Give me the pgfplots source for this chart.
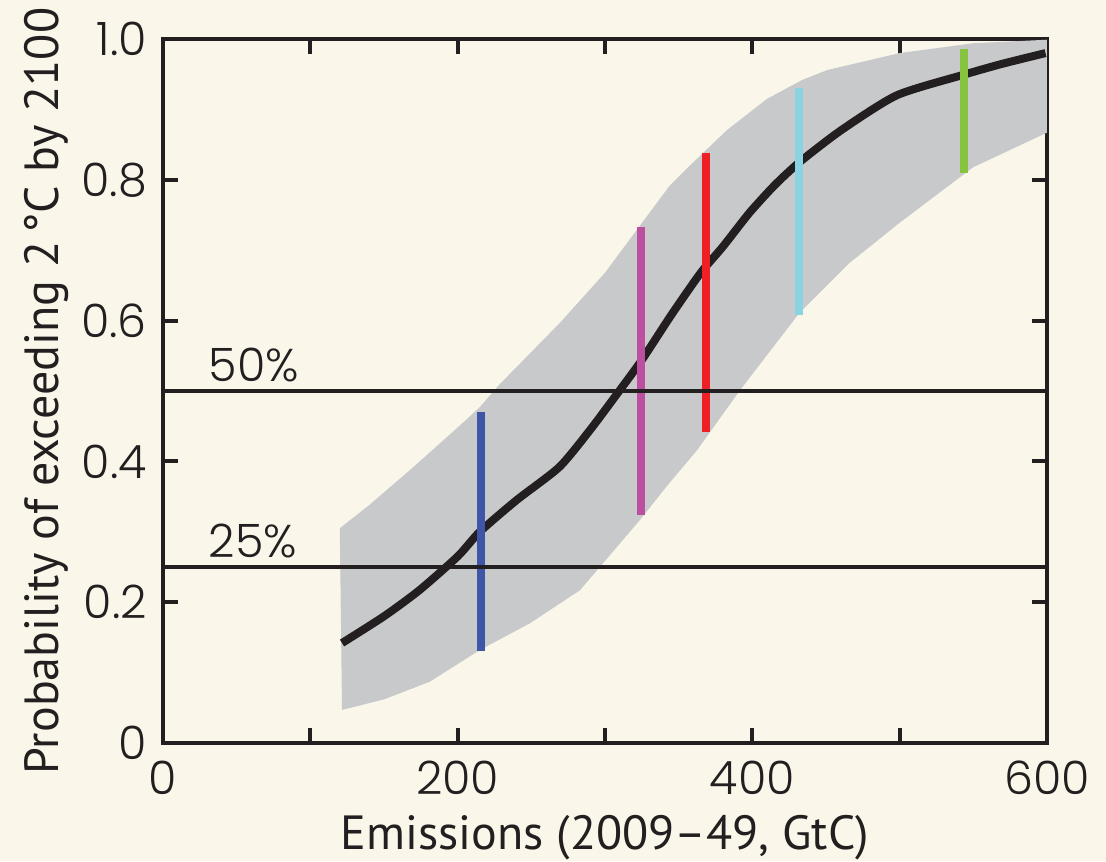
\documentclass[border=0pt]{standalone}
\usepackage{fontspec}
\setmainfont{PT Sans}
\newfontfamily\tickfont{Poppins}[UprightFont={* Light}]
\usepackage{pgfplots}
\pgfplotsset{compat=1.18}
\usetikzlibrary{backgrounds}
\definecolor{bgcream}{HTML}{FAF6E9}
\definecolor{bandgray}{HTML}{C8C9CB}
\definecolor{ink}{HTML}{231F20}
\definecolor{cblue}{HTML}{3F56A8}
\definecolor{cmag}{HTML}{BC4F9F}
\definecolor{cred}{HTML}{EE1F25}
\definecolor{ccyan}{HTML}{8AD3E3}
\definecolor{cgreen}{HTML}{86C440}
\begin{document}
\begin{tikzpicture}
\begin{axis}[
  scale only axis, width=221pt, height=176pt,
  xmin=0, xmax=600, ymin=0, ymax=1,
  axis line style={line width=1pt, color=ink},
  xtick={0,100,...,600}, xticklabels={0,,200,,400,,600},
  ytick={0,0.2,0.4,0.6,0.8,1.0}, yticklabels={0,0.2,0.4,0.6,0.8,1.0},
  tick align=inside, major tick length=3.75pt,
  tick style={line width=1pt, color=ink},
  tick pos=both,
  ticklabel style={font=\tickfont\fontsize{11.5}{12}\selectfont, text=ink},
  yticklabel style={xshift=-0.5pt},
  xticklabel style={yshift=-1pt},
  xlabel={Emissions (2009\textendash 49, GtC)},
  ylabel={Probability of exceeding 2\,°C by 2100},
  label style={font=\fontsize{12}{13}\selectfont, text=ink},
  xlabel style={at={(axis description cs:0.5,0)}, anchor=base, yshift=-26.5pt},
  ylabel style={at={([xshift=-29pt]axis description cs:0,0.5)}, anchor=center},
  clip=false,
]
\coordinate (SW) at (rel axis cs:0,0);
\coordinate (NE) at (rel axis cs:1,1);
% uncertainty band
\addplot[fill=bandgray, draw=none] coordinates {
 (120,0.305) (140,0.338) (170,0.392) (203.6,0.455) (215,0.477) (228.7,0.510)
 (269.5,0.597) (300,0.668) (344,0.792) (355,0.815) (383,0.871) (410,0.915)
 (434,0.942) (451,0.956) (500,0.980) (550,0.994) (600,0.999)
 (600,0.867) (550,0.818) (500,0.739) (466,0.682) (432,0.611) (391.6,0.501)
 (362.5,0.416) (342,0.365) (323.8,0.317) (283,0.217) (249,0.170) (215,0.132)
 (181,0.087) (150,0.062) (121.5,0.047)
} -- cycle;
% central curve
\addplot[line width=2pt, color=ink, smooth, tension=0.4] coordinates {
 (121.5,0.142) (150,0.180) (174,0.217) (200,0.265) (215,0.300) (240,0.345)
 (269,0.392) (290,0.445) (310,0.501) (325,0.544) (345,0.608) (365,0.668)
 (380,0.705) (398,0.753) (415,0.792) (432,0.825) (460,0.870) (498,0.920)
 (543,0.949) (570,0.965) (599,0.980)
};
% vertical ranges
\addplot[line width=2pt, color=cblue] coordinates {(215.8,0.131) (215.8,0.470)};
\addplot[line width=2pt, color=cmag] coordinates {(324.4,0.324) (324.4,0.733)};
\addplot[line width=2pt, color=cred] coordinates {(368.6,0.442) (368.6,0.838)};
\addplot[line width=2pt, color=ccyan] coordinates {(431.7,0.608) (431.7,0.930)};
\addplot[line width=2pt, color=cgreen] coordinates {(543.7,0.810) (543.7,0.986)};
% threshold lines
\addplot[line width=1pt, color=ink] coordinates {(0,0.5) (600,0.5)};
\addplot[line width=1pt, color=ink] coordinates {(0,0.25) (600,0.25)};
\node[anchor=base west, inner sep=0pt, text=ink, font=\tickfont\fontsize{11.5}{12}\selectfont] at (axis cs:30.5,0.513) {50\%};
\node[anchor=base west, inner sep=0pt, text=ink, font=\tickfont\fontsize{11.5}{12}\selectfont] at (axis cs:30.5,0.263) {25\%};
\end{axis}
\begin{scope}[on background layer]
\fill[bgcream] ([shift={(-40.75pt,-29.5pt)}]SW) rectangle ([shift={(14.75pt,9.75pt)}]NE);
\end{scope}
\pgfresetboundingbox
\path[use as bounding box] ([shift={(-40.75pt,-29.5pt)}]SW) rectangle ([shift={(14.75pt,9.75pt)}]NE);
\end{tikzpicture}
\end{document}
